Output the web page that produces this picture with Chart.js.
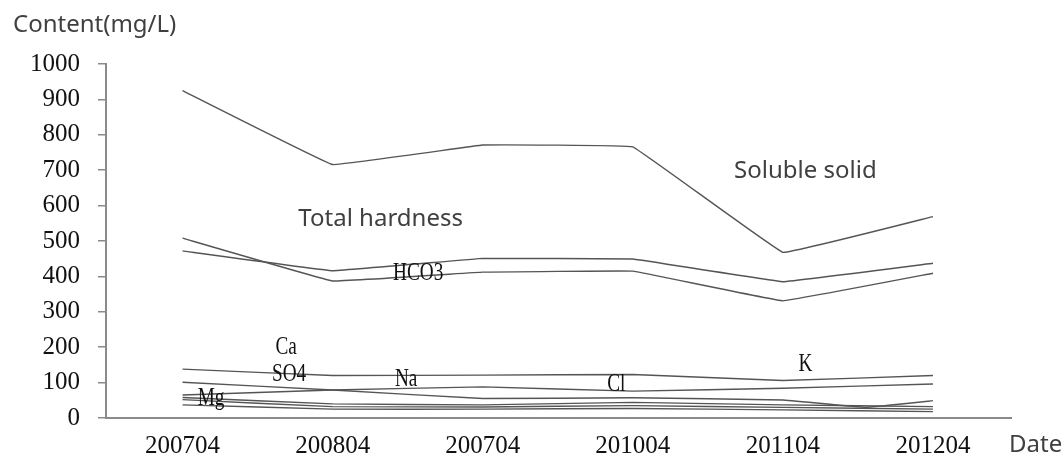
<!DOCTYPE html>
<html lang="en">
<head>
<meta charset="utf-8">
<title>Content</title>
<script src="https://cdn.jsdelivr.net/npm/chart.js@4.4.1/dist/chart.umd.min.js"></script>
<style>
  html, body { margin: 0; padding: 0; background: #fff; }
  #chart-wrap { width: 1062px; height: 455px; position: relative; }
</style>
</head>
<body>
<div id="chart-wrap"><canvas id="chart-content"></canvas></div>
<script>
'use strict';
// 調査日
const dates = ['200704', '200804', '200704', '201004', '201104', '201204'];
// 各成分の含有量 (mg/L)
const solubleSolid = [925, 716, 771, 766, 468, 569];
const totalHardness = [472, 416, 451, 449, 385, 437];
const hco3 = [508, 387, 412, 415, 331, 409];
const ca = [138, 120, 121, 123, 106, 120];
const so4 = [65, 79, 88, 76, 84, 96];
const mg = [58, 40, 37, 44, 37, 32];
const cl = [52, 32, 31, 35, 30, 25];
const k = [37, 25, 25, 27, 23, 18];
// Na は 201104 と 201204 の間にもう一点ある
const naPositions = [0, 1, 2, 3, 4, 4.55, 5];
const na = [101, 79, 55, 57, 51, 30, 49];
// 線の横に置く名前とその位置（横は日付の番号、縦は mg/L）
const labelNames = ['Soluble solid', 'Total hardness', 'HCO3', 'Ca', 'SO4', 'Na', 'Mg', 'Cl', 'K'];
const labelXs = [4.15, 1.32, 1.57, 0.69, 0.71, 1.49, 0.19, 2.89, 4.15];
const labelYs = [697, 562, 410, 199, 124, 110, 56, 96, 153];

(function() {
  // 共通の色とフォント
  const lineColor = '#555555';
  const axisColor = '#8a8a8a';
  const serifFont = '"Liberation Serif", "DejaVu Serif", serif';
  const sansFont = '"Noto Sans", "Open Sans", sans-serif';

  // 配列を {x, y} の点にする
  function toPoints(values, positions) {
    return values.map(function(v, i) {
      return { x: positions ? positions[i] : i, y: v };
    });
  }

  function makeDataset(label, values, positions) {
    return {
      label: label,
      data: toPoints(values, positions),
      borderColor: lineColor,
      borderWidth: 1.4,
      pointRadius: 0,
      tension: 0.04,
      fill: false,
    };
  }

  // 線の名前と軸名を描く
  const textPlugin = {
    id: 'seriesText',
    afterDatasetsDraw: function(chart) {
      const ctx = chart.ctx;
      const xScale = chart.scales.x;
      const yScale = chart.scales.y;
      ctx.save();
      labelNames.forEach(function(name, i) {
        const px = xScale.getPixelForValue(labelXs[i]);
        const py = yScale.getPixelForValue(labelYs[i]);
        ctx.save();
        ctx.translate(px, py);
        ctx.textAlign = 'center';
        ctx.textBaseline = 'middle';
        if (i < 2) {
          ctx.fillStyle = '#404040';
          ctx.font = '24px ' + sansFont;
        } else {
          ctx.fillStyle = '#111111';
          ctx.font = '26px ' + serifFont;
          ctx.scale(0.74, 1);
        }
        ctx.fillText(name, 0, 0);
        ctx.restore();
      });
      ctx.fillStyle = '#404040';
      ctx.font = '24px ' + sansFont;
      ctx.textAlign = 'left';
      ctx.textBaseline = 'alphabetic';
      ctx.fillText('Content(mg/L)', 13, 32);
      ctx.fillText('Date', 1009, 452);
      ctx.restore();
    }
  };

  const chartContext = document.getElementById('chart-content').getContext('2d');
  new Chart(chartContext, {
    type: 'line',
    data: {
      datasets: [
        makeDataset('Soluble solid', solubleSolid),
        makeDataset('Total hardness', totalHardness),
        makeDataset('HCO3', hco3),
        makeDataset('Ca', ca),
        makeDataset('SO4', so4),
        makeDataset('Na', na, naPositions),
        makeDataset('Mg', mg),
        makeDataset('Cl', cl),
        makeDataset('K', k),
      ],
    },
    options: {
      responsive: true,
      maintainAspectRatio: false,
      animation: false,
      layout: {
        padding: { top: 64, right: 51, bottom: 0, left: 0 }
      },
      plugins: {
        legend: { display: false },
        tooltip: { enabled: false },
      },
      scales: {
        x: {
          type: 'linear',
          min: -0.51,
          max: 5.52,
          afterBuildTicks: function(scale) {
            scale.ticks = dates.map(function(d, i) {
              return { value: i };
            });
          },
          afterFit: function(scale) {
            scale.height = 37;
          },
          grid: { drawOnChartArea: false, drawTicks: false },
          border: { color: axisColor, width: 2 },
          ticks: {
            autoSkip: false,
            maxRotation: 0,
            padding: 13,
            color: '#111111',
            font: { family: serifFont, size: 25 },
            callback: function(value) {
              return dates[value];
            }
          }
        },
        y: {
          min: 0,
          max: 1000,
          afterFit: function(scale) {
            scale.width = 106;
          },
          grid: { drawOnChartArea: false, drawTicks: true, tickLength: 8, color: axisColor, lineWidth: 1.5 },
          border: { color: axisColor, width: 2 },
          ticks: {
            stepSize: 100,
            padding: 18,
            color: '#111111',
            font: { family: serifFont, size: 25 },
            callback: function(value) {
              return String(value);
            }
          }
        }
      }
    },
    plugins: [textPlugin]
  });
})();
</script>
</body>
</html>
